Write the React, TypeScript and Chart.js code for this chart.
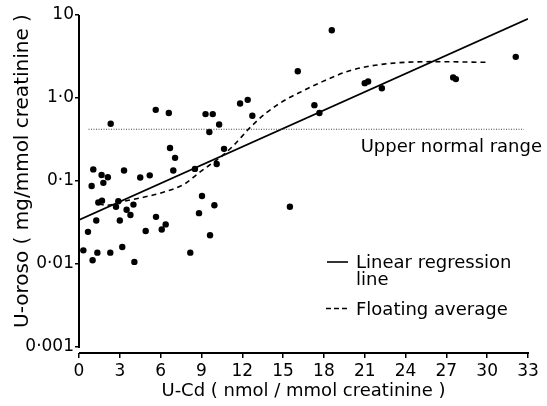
import React, { useEffect, useRef } from "react";
import { Chart, registerables } from "chart.js";

Chart.register(...registerables);

const FONT = "'DejaVu Sans', 'Liberation Sans', sans-serif";

// Scatter points: U-Cd (x) vs U-oroso (y)
const pointsX = [
  0.32, 0.66, 1.0, 1.35, 1.27, 1.42, 1.69, 2.3, 2.72, 2.89,
  3.0, 3.18, 3.5, 3.78, 4.0, 4.07, 4.9, 5.66, 6.08, 6.37,
  8.18, 8.82, 9.04, 9.63, 9.95, 1.05, 0.93, 1.66, 2.12, 1.79,
  3.31, 4.5, 5.2, 2.33, 5.64, 6.6, 9.3, 9.83, 9.58, 10.3,
  11.84, 12.4, 12.74, 6.69, 7.06, 6.93, 10.66, 10.12, 8.52, 15.5,
  18.58, 16.08, 17.3, 17.67, 21.0, 21.25, 22.26, 27.5, 27.7, 32.1,
];
const pointsY = [
  0.0146, 0.0244, 0.0111, 0.0137, 0.0335, 0.055, 0.058, 0.0137, 0.0488, 0.057,
  0.0335, 0.016, 0.045, 0.039, 0.052, 0.0106, 0.025, 0.037, 0.026, 0.030,
  0.0137, 0.041, 0.066, 0.0222, 0.051, 0.138, 0.087, 0.118, 0.111, 0.095,
  0.134, 0.11, 0.117, 0.49, 0.72, 0.66, 0.64, 0.64, 0.39, 0.48,
  0.86, 0.95, 0.61, 0.25, 0.19, 0.134, 0.244, 0.16, 0.14, 0.049,
  6.55, 2.1, 0.82, 0.66, 1.51, 1.58, 1.31, 1.77, 1.69, 3.13,
];

// Linear regression line (end points)
const regressionX = [0, 33];
const regressionY = [0.034, 9.0];

// Floating average curve
const floatingX = [1.45, 2.1, 3.1, 4.8, 6.3, 7.8, 8.8, 9.7, 10.4, 11.35, 12.57, 13.8, 15.27, 16.25, 17.6, 19.9, 22.4, 26.0, 30.0];
const floatingY = [0.053, 0.051, 0.056, 0.064, 0.074, 0.093, 0.125, 0.16, 0.193, 0.267, 0.44, 0.67, 0.97, 1.17, 1.5, 2.13, 2.56, 2.74, 2.69];

// Upper normal range
const upperNormalValue = 0.42;
const upperNormalX = [0.7, 32.7];

// Axes
const xTickValues = [0, 3, 6, 9, 12, 15, 18, 21, 24, 27, 30, 33];
const xTickLabels = ["0", "3", "6", "9", "12", "15", "18", "21", "24", "27", "30", "33"];
const yTickValues = [0.001, 0.01, 0.1, 1, 10];
const yTickLabels = ["0·001", "0·01", "0·1", "1·0", "10"];

const xTitle = "U-Cd ( nmol / mmol creatinine )";
const yTitle = "U-oroso ( mg/mmol creatinine )";
const upperNormalText = "Upper normal range";
const legendRegression = ["Linear regression", "line"];
const legendFloating = "Floating average";

const toXY = (xs: number[], ys: number[]) => xs.map((x, i) => ({ x, y: ys[i] }));

export default function App() {
  const ref = useRef<HTMLCanvasElement>(null);

  useEffect(() => {
    document.body.style.margin = "0";
    const canvas = ref.current;
    if (!canvas) return;

    const annotations = {
      id: "annotations",
      afterDraw(chart: any) {
        const { ctx, chartArea, scales } = chart;
        const xs = scales.x;
        const ys = scales.y;
        ctx.save();
        ctx.strokeStyle = "#000";
        ctx.fillStyle = "#000";
        ctx.lineWidth = 2;
        ctx.setLineDash([]);
        // y axis line
        ctx.beginPath();
        ctx.moveTo(chartArea.left, chartArea.top);
        ctx.lineTo(chartArea.left, ys.getPixelForValue(yTickValues[0]) + 1);
        ctx.stroke();
        // x axis line
        ctx.beginPath();
        ctx.moveTo(chartArea.left, chartArea.bottom);
        ctx.lineTo(xs.getPixelForValue(xTickValues[xTickValues.length - 1]) + 1, chartArea.bottom);
        ctx.stroke();

        // y title
        ctx.save();
        ctx.font = `20px ${FONT}`;
        ctx.textAlign = "center";
        ctx.textBaseline = "middle";
        ctx.translate(23, 171);
        ctx.rotate(-Math.PI / 2);
        ctx.fillText(yTitle, 0, 0);
        ctx.restore();

        // upper normal range label
        ctx.font = `18px ${FONT}`;
        ctx.textAlign = "left";
        ctx.textBaseline = "alphabetic";
        ctx.fillText(upperNormalText, xs.getPixelForValue(20.7), ys.getPixelForValue(upperNormalValue) + 23);

        // legend
        ctx.lineWidth = 1.6;
        ctx.beginPath();
        ctx.moveTo(327, 262);
        ctx.lineTo(348, 262);
        ctx.stroke();
        ctx.fillText(legendRegression[0], 356, 268);
        ctx.fillText(legendRegression[1], 356, 285);
        ctx.setLineDash([5, 3]);
        ctx.beginPath();
        ctx.moveTo(326, 308.5);
        ctx.lineTo(349, 308.5);
        ctx.stroke();
        ctx.setLineDash([]);
        ctx.fillText(legendFloating, 356, 315);
        ctx.restore();
      },
    };

    const chart = new Chart(canvas, {
      type: "scatter",
      data: {
        datasets: [
          {
            label: "Upper normal range",
            data: toXY(upperNormalX, [upperNormalValue, upperNormalValue]),
            showLine: true,
            pointRadius: 0,
            borderColor: "#444",
            borderWidth: 1,
            borderDash: [1, 1.5],
          },
          {
            label: "Linear regression line",
            data: toXY(regressionX, regressionY),
            showLine: true,
            pointRadius: 0,
            borderColor: "#000",
            borderWidth: 1.7,
          },
          {
            label: "Floating average",
            data: toXY(floatingX, floatingY),
            showLine: true,
            pointRadius: 0,
            borderColor: "#000",
            borderWidth: 1.6,
            borderDash: [5, 4],
            cubicInterpolationMode: "monotone",
          },
          {
            label: "Patients",
            data: toXY(pointsX, pointsY),
            showLine: false,
            pointRadius: 3.2,
            pointBorderWidth: 0,
            backgroundColor: "#000",
            borderColor: "#000",
          },
        ],
      } as any,
      options: {
        animation: false,
        responsive: false,
        devicePixelRatio: 1,
        layout: { padding: { top: 15, right: 19, left: 0, bottom: 0 } },
        plugins: { legend: { display: false }, tooltip: { enabled: false } },
        scales: {
          x: {
            type: "linear",
            min: 0,
            max: 33,
            afterBuildTicks: (scale: any) => {
              scale.ticks = xTickValues.map((v) => ({ value: v }));
            },
            afterFit: (scale: any) => {
              scale.height = 53;
            },
            ticks: {
              autoSkip: false,
              maxRotation: 0,
              padding: 3,
              color: "#000",
              font: { family: FONT, size: 17 },
              callback: (_v: any, i: number) => xTickLabels[i],
            },
            grid: {
              drawOnChartArea: false,
              drawTicks: true,
              tickLength: 5,
              color: "#000",
              lineWidth: 1.5,
            },
            border: { display: false },
            title: {
              display: true,
              text: xTitle,
              color: "#000",
              font: { family: FONT, size: 18 },
              padding: { top: 0, bottom: 4 },
            },
          },
          y: {
            type: "logarithmic",
            min: 0.000847,
            max: 10,
            afterBuildTicks: (scale: any) => {
              scale.ticks = yTickValues.map((v) => ({ value: v }));
            },
            afterFit: (scale: any) => {
              scale.width = 79;
            },
            ticks: {
              autoSkip: false,
              padding: 1,
              color: "#000",
              font: { family: FONT, size: 17 },
              callback: (_v: any, i: number) => yTickLabels[i],
            },
            grid: {
              drawOnChartArea: false,
              drawTicks: true,
              tickLength: 4,
              color: "#000",
              lineWidth: 1.5,
            },
            border: { display: false },
          },
        },
      } as any,
      plugins: [annotations],
    });

    return () => chart.destroy();
  }, []);

  return (
    <div style={{ width: 547, height: 406, background: "#fff" }}>
      <canvas ref={ref} width={547} height={406} style={{ display: "block" }} />
    </div>
  );
}
